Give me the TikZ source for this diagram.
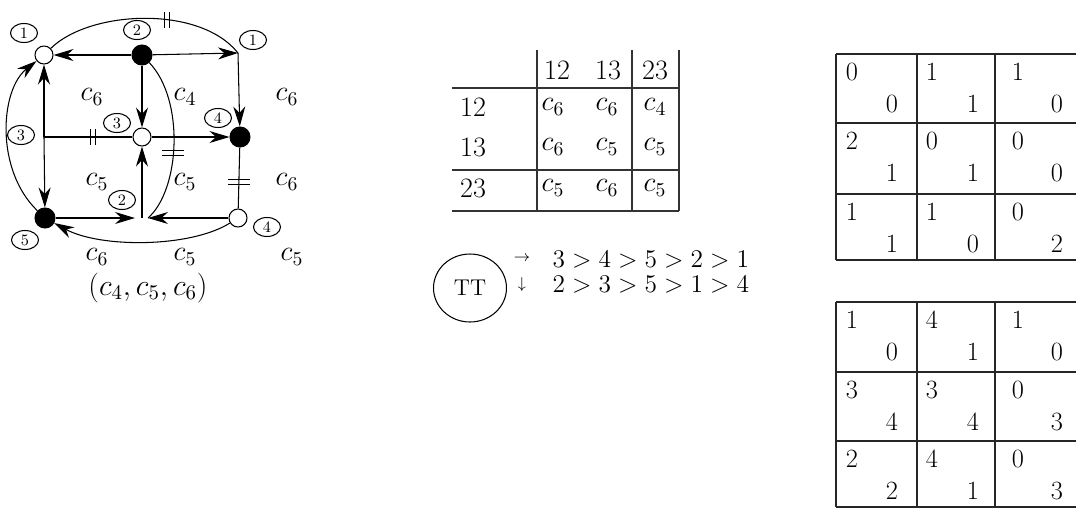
\RequirePackage{fix-cm}
\documentclass[tikz,border=0pt]{standalone}
\usetikzlibrary{arrows.meta,shapes.geometric}

\begin{document}
\begin{tikzpicture}[x=0.02cm,y=-0.02cm,line width=0.6pt,
  wnode/.style={circle,draw,fill=white,inner sep=0pt,minimum size=0.36cm},
  bnode/.style={circle,draw,fill=black,inner sep=0pt,minimum size=0.4cm},
  lab/.style={ellipse,draw,inner sep=0pt,minimum width=0.54cm,minimum height=0.38cm,
              font=\fontsize{9}{10}\selectfont},
  arr/.style={-{Stealth[length=0.4cm,width=0.24cm]}},
  clab/.style={font=\fontsize{16}{19}\selectfont},
  tnum/.style={font=\fontsize{16}{19}\selectfont},
  tline/.style={line width=0.9pt,black!80},
  mnum/.style={font=\fontsize{15}{18}\selectfont,inner sep=0pt},
  mline/.style={line width=1pt,black!85}]
  \useasboundingbox (0,0) rectangle (1076,508);

  %% graph
  \node[wnode] (v1) at (44,55) {};
  \node[bnode] (v2) at (142,55) {};
  \coordinate (v1r) at (238,53);
  \node[wnode] (v3) at (142,137) {};
  \node[bnode] (v4) at (240,137) {};
  \node[bnode] (v5) at (45,218) {};
  \node[wnode] (v4b) at (238,218) {};
  \coordinate (v3l) at (44,137);
  \coordinate (mb) at (142,218);
  \coordinate (ml) at (135,218);
  \coordinate (mr) at (148,218);

  \draw[arr] (v2) -- (v1);
  \draw[arr] (v2) -- (v1r);
  \draw[arr] (v2) -- (v3);
  \draw[arr] (v1r) -- (v4);
  \draw[arr] (v3) -- (v4);
  \draw[arr] (v3l) -- (v1);
  \draw[arr] (v3l) -- (v5);
  \draw (v3l) -- (v3);
  \draw[arr] (mb) -- (v3);
  \draw[arr] (v5) -- (ml);
  \draw[arr] (v4b) -- (mr);
  \draw (v4) -- (v4b);
  \draw (v2) .. controls (185,100) and (180,190) .. (mr);
  \draw (v1) .. controls (90,10) and (200,5) .. (v1r);
  \draw[arr] (v5) .. controls (-5,170) and (0,90) .. (v1);
  \draw[arr] (v4b) .. controls (190,248) and (100,248) .. (v5);

  %% tick marks
  \coordinate (k1) at (167,20);
  \coordinate (k2) at (93,137);
  \coordinate (k3) at (173,153);
  \coordinate (k4) at (239,182);
  \draw (k1) ++(-2.5,-8) -- ++(0,16) (k1) ++(2.5,-8) -- ++(0,16);
  \draw (k2) ++(-2.5,-8) -- ++(0,16) (k2) ++(2.5,-8) -- ++(0,16);
  \draw (k3) ++(-11,-2.5) -- ++(22,0) (k3) ++(-11,2.5) -- ++(22,0);
  \draw (k4) ++(-11,-2.5) -- ++(22,0) (k4) ++(-11,2.5) -- ++(22,0);

  %% circled labels
  \node[lab] (l1a) at (24,33) {1};
  \node[lab] (l2a) at (137,30) {2};
  \node[lab] (l1b) at (253,40) {1};
  \node[lab] (l3a) at (21,135) {3};
  \node[lab] (l3b) at (117,123) {3};
  \node[lab] (l4a) at (218,118) {4};
  \node[lab] (l2b) at (122,200) {2};
  \node[lab] (l5) at (25,240) {5};
  \node[lab] (l4b) at (267,227) {4};

  %% face labels
  \node[clab] (f1) at (92,97) {$c_6$};
  \node[clab] (f2) at (185,97) {$c_4$};
  \node[clab] (f3) at (287,97) {$c_6$};
  \node[clab] (f4) at (97,182) {$c_5$};
  \node[clab] (f5) at (185,182) {$c_5$};
  \node[clab] (f6) at (287,182) {$c_6$};
  \node[clab] (f7) at (97,257) {$c_6$};
  \node[clab] (f8) at (185,257) {$c_5$};
  \node[clab] (f9) at (292,257) {$c_5$};
  \node[font=\fontsize{17}{20}\selectfont] (cap) at (148,288) {$(c_4,c_5,c_6)$};

  %% table
  \draw[tline] (452,88) -- (679,88) (452,170) -- (679,170) (452,211) -- (679,211);
  \draw[tline] (537,50) -- (537,211) (632,50) -- (632,211) (679,50) -- (679,211);
  \node[tnum] (h12) at (557,70) {12};
  \node[tnum] (h13) at (608,70) {13};
  \node[tnum] (h23) at (655,70) {23};
  \node[tnum] (r12) at (473,107) {12};
  \node[tnum] (r13) at (473,147) {13};
  \node[tnum] (r23) at (473,188) {23};
  \node[tnum] (e11) at (553,107) {$c_6$};
  \node[tnum] (e12) at (607,107) {$c_6$};
  \node[tnum] (e13) at (655,107) {$c_4$};
  \node[tnum] (e21) at (553,147) {$c_6$};
  \node[tnum] (e22) at (607,147) {$c_5$};
  \node[tnum] (e23) at (655,147) {$c_5$};
  \node[tnum] (e31) at (553,188) {$c_5$};
  \node[tnum] (e32) at (607,188) {$c_6$};
  \node[tnum] (e33) at (655,188) {$c_5$};

  %% TT
  \node[draw,ellipse,minimum width=1.46cm,minimum height=1.36cm,
        font=\fontsize{13}{16}\selectfont] (tt) at (470,288) {TT};
  \node[font=\fontsize{9}{10}\selectfont] (ar1) at (522,259) {$\rightarrow$};
  \node[font=\fontsize{9}{10}\selectfont] (ar2) at (522,285) {$\downarrow$};
  \node[anchor=west,inner sep=0pt,font=\fontsize{14.5}{17}\selectfont] (o1) at (552,260) {$3>4>5>2>1$};
  \node[anchor=west,inner sep=0pt,font=\fontsize{14.5}{17}\selectfont] (o2) at (552,285) {$2>3>5>1>4$};

  %% matrices
  \draw[mline] (836,54) -- (1076,54) (836,123) -- (1076,123) (836,194) -- (1076,194) (836,260) -- (1076,260);
  \draw[mline] (836,54) -- (836,260) (917,54) -- (917,260) (995,54) -- (995,260);
  \draw[mline] (836,302) -- (1076,302) (836,372) -- (1076,372) (836,441) -- (1076,441) (836,507) -- (1076,507);
  \draw[mline] (836,302) -- (836,507) (917,302) -- (917,507) (995,302) -- (995,507);
  \foreach \yt/\a/\b/\c/\d/\e/\f [count=\r] in
      {54/0/0/1/1/1/0, 123/2/1/0/1/0/0, 194/1/1/1/0/0/2,
       302/1/0/4/1/1/0, 372/3/4/3/4/0/3, 441/2/2/4/1/0/3} {
    \node[mnum] (m\r a) at (852,\yt+18) {\a};
    \node[mnum] (m\r b) at (892,\yt+50) {\b};
    \node[mnum] (m\r c) at (932,\yt+18) {\c};
    \node[mnum] (m\r d) at (973,\yt+50) {\d};
    \node[mnum] (m\r e) at (1018,\yt+18) {\e};
    \node[mnum] (m\r f) at (1057,\yt+50) {\f};
  }
\end{tikzpicture}
\end{document}
